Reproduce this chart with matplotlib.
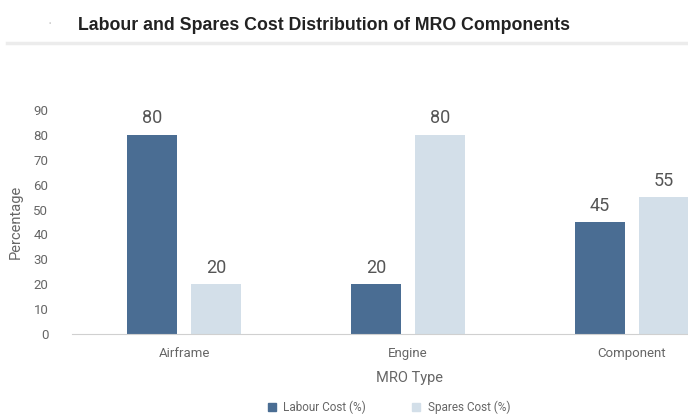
import matplotlib
matplotlib.use("Agg")
import matplotlib.pyplot as plt
import numpy as np
from matplotlib.lines import Line2D

categories = ["Airframe", "Engine", "Component"]
labour = [80, 20, 45]
spares = [20, 80, 55]
yticks = [0, 10, 20, 30, 40, 50, 60, 70, 80, 90]

narrow = ["Roboto", "DejaVu Sans"]
c_lab = "#4a6d93"
c_spa = "#d3dfe9"
txt = "#666666"

W, H = 688, 419
fig = plt.figure(figsize=(W / 100, H / 100), dpi=100)
fig.patch.set_facecolor("white")

# axes: left at 72px, category spacing 224px, y0 at 334px, y90 at 110px
x0 = 72
span = 3 * 224
ybot = H - 334
ytop = H - 110
ax = fig.add_axes([x0 / W, ybot / H, span / W, (ytop - ybot) / H])
ax.set_xlim(-0.5, 2.5)
ax.set_ylim(0, 90)

x = np.arange(len(categories))
w = 0.223
off = 0.143
ax.bar(x - off, labour, w, color=c_lab, label="Labour Cost (%)", clip_on=False)
ax.bar(x + off, spares, w, color=c_spa, label="Spares Cost (%)", clip_on=False)
for xi, v in zip(x - off, labour):
    ax.text(xi, v + 3, str(v), ha="center", va="bottom", fontsize=13,
            color="#555555", family=narrow)
for xi, v in zip(x + off, spares):
    ax.text(xi, v + 3, str(v), ha="center", va="bottom", fontsize=13,
            color="#555555", family=narrow)

for s in ["top", "right", "left"]:
    ax.spines[s].set_visible(False)
ax.spines["bottom"].set_color("#d0d0d0")
ax.spines["bottom"].set_linewidth(0.8)
ax.set_yticks(yticks)
ax.set_xticks(x)
ax.set_xticklabels(categories)
ax.tick_params(axis="both", length=0, colors=txt, labelsize=9.5)
ax.tick_params(axis="y", pad=17)
ax.tick_params(axis="x", pad=9)
for lab in ax.get_xticklabels() + ax.get_yticklabels():
    lab.set_family(narrow)

fig.text(16 / W, 1 - 222 / H, "Percentage", rotation=90, ha="center", va="center",
         fontsize=10.5, color=txt, family=narrow)
fig.text(410 / W, 1 - 378 / H, "MRO Type", ha="center", va="center",
         fontsize=10.5, color=txt, family=narrow)

# legend
handles = [Line2D([], [], marker="s", linestyle="", markersize=6, color=c_lab),
           Line2D([], [], marker="s", linestyle="", markersize=6, color=c_spa)]
fig.legend(handles, ["Labour Cost (%)", "Spares Cost (%)"], loc="center",
           bbox_to_anchor=(385 / W, 1 - 407 / H), ncol=2, frameon=False,
           prop={"family": narrow, "size": 8.5}, handletextpad=0.0,
           columnspacing=3.2, labelcolor=txt)

# header
fig.add_artist(Line2D([7 / W, 1], [1 - 43 / H, 1 - 43 / H], color="#ececec",
                      lw=2.5, transform=fig.transFigure))
fig.text(78 / W, 1 - 25 / H, "Labour and Spares Cost Distribution of MRO Components",
         ha="left", va="center", fontsize=12.8, fontweight="bold", color="#222222",
         family=["Liberation Sans", "DejaVu Sans"])
fig.text(50 / W, 1 - 24 / H, "\u00b7", ha="center", va="center", fontsize=10,
         color="#cccccc")

fig.savefig("out.png", dpi=100)
